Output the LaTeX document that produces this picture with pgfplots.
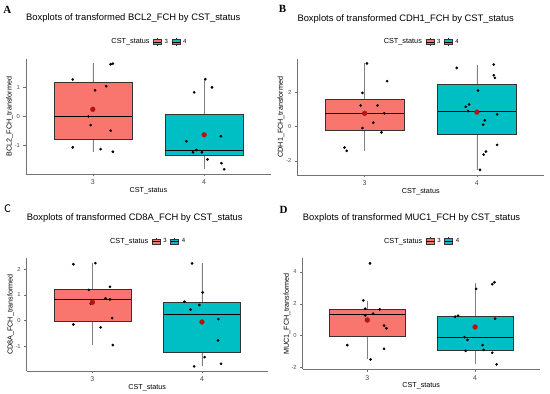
\documentclass[border=0pt]{standalone}
\usepackage{fontspec}
\setmainfont{Liberation Sans}
\newfontfamily\serifbf{Liberation Serif}
\newfontfamily\carlito{Carlito}
\usepackage{pgfplots}
\usepgfplotslibrary{statistics}
\pgfplotsset{compat=1.18}
\definecolor{ggred}{HTML}{F8766D}
\definecolor{ggcyan}{HTML}{00BFC4}
\definecolor{boxline}{HTML}{333333}
\definecolor{meanred}{HTML}{B41414}

\pgfplotsset{
  panel/.style={
    scale only axis,
    axis lines=left,
    axis line style={-, black!55, line width=0.6pt},
    xmin=-0.6, xmax=1.6,
    xtick={0,1}, xticklabels={3,4},
    tick align=outside,
    major tick length=2.5pt,
    tick style={black!55, line width=0.5pt},
    yticklabel style={font=\fontsize{5.8}{7}\selectfont, text=black!70},
    xticklabel style={font=\fontsize{7}{8}\selectfont, text=black!70},
    xlabel={CST\_status},
    xlabel style={at={(axis description cs:0.5,0)}, anchor=center, yshift=-16.5pt, font=\fontsize{7.2}{8}\selectfont},
    ylabel style={at={(axis description cs:-0.066,0.5)}, anchor=center, font=\fontsize{7.2}{8}\selectfont},
    title style={at={(axis description cs:0,1)}, anchor=base west, inner sep=0pt, yshift=32pt, font=\fontsize{9.4}{10}\selectfont},
    legend style={at={(axis description cs:0.5,1)}, anchor=center, yshift=17pt, draw=none, fill=none,
      legend columns=-1, font=\fontsize{6}{7}\selectfont,
      /tikz/every even column/.append style={column sep=1.5pt},
      /tikz/every odd column/.append style={column sep=1pt}},
    legend cell align=left,
    boxplot/draw direction=y,
    boxplot/every median/.style={black, line width=1pt},
    boxplot/every whisker/.style={black!50, line width=0.6pt},
    clip=false,
  },
  redkey/.style={legend image code/.code={
    \draw[boxline, fill=ggred, line width=0.4pt] (0pt,-2.6pt) rectangle (8pt,2.6pt);
    \draw[black, line width=0.6pt] (0pt,0pt) -- (8pt,0pt);
    \draw[boxline, line width=0.4pt] (4pt,2.6pt)--(4pt,3.8pt) (4pt,-2.6pt)--(4pt,-3.8pt);}},
  cyankey/.style={legend image code/.code={
    \draw[boxline, fill=ggcyan, line width=0.4pt] (0pt,-2.6pt) rectangle (8pt,2.6pt);
    \draw[black, line width=0.6pt] (0pt,0pt) -- (8pt,0pt);
    \draw[boxline, line width=0.4pt] (4pt,2.6pt)--(4pt,3.8pt) (4pt,-2.6pt)--(4pt,-3.8pt);}},
  pts/.style={only marks, mark=*, mark size=1.15pt, black},
  meanpt/.style={only marks, mark=*, mark size=2.4pt, color=meanred, mark options={draw=meanred, fill=meanred}},
}
\newcommand{\legendkeys}{%
  \addlegendimage{empty legend}\addlegendentry{\fontsize{7.3}{8}\selectfont CST\_status}
  \addlegendimage{redkey}\addlegendentry{3}
  \addlegendimage{cyankey}\addlegendentry{4}
}

\begin{document}
\begin{tikzpicture}
\path[use as bounding box] (0,0) rectangle (550pt,394pt);
\node[font=\serifbf\bfseries\fontsize{11}{12}\selectfont] at (7.3pt,384.3pt) {A};
\node[font=\serifbf\bfseries\fontsize{11}{12}\selectfont] at (282.5pt,385.2pt) {B};
\node[font=\carlito\fontsize{12}{13}\selectfont] at (7.5pt,185.2pt) {C};
\node[font=\serifbf\bfseries\fontsize{11}{12}\selectfont] at (283.5pt,184.3pt) {D};

% Panel A
\begin{axis}[panel, at={(26pt,220pt)}, anchor=south west, width=245pt, height=115pt,
  ymin=-1.97, ymax=1.96, ytick={-1,0,1}, yticklabels={-1,0,1},
  ylabel={BCL2\_FCH\_transformed},
  title={Boxplots of transformed BCL2\_FCH by CST\_status}]
\legendkeys
\addplot[boxplot prepared={lower whisker=-1.21, lower quartile=-0.77, median=0, upper quartile=1.15, upper whisker=1.81, draw position=0, box extend=0.7, whisker extend=0}, draw=boxline, fill=ggred, line width=0.5pt] coordinates {};
\addplot[boxplot prepared={lower whisker=-1.81, lower quartile=-1.34, median=-1.15, upper quartile=0.07, upper whisker=1.28, draw position=1, box extend=0.7, whisker extend=0}, draw=boxline, fill=ggcyan, line width=0.5pt] coordinates {};
\addplot[pts] coordinates {
 (-0.18,1.26) (0.16,1.78) (0.18,1.80) (0.02,0.89) (0.12,1.03) (-0.04,0.00) (-0.02,-0.30) (0.16,-0.49) (-0.18,-1.06) (0.07,-1.12) (0.18,-1.21)
 (1.01,1.27) (0.91,0.82) (1.07,0.99) (0.84,-0.85) (1.15,-0.68) (0.90,-1.23) (0.93,-1.15) (0.98,-1.23) (1.03,-1.47) (1.155,-1.60) (1.18,-1.81)};
\addplot[meanpt] coordinates {(0,0.24) (1,-0.63)};
\end{axis}

% Panel B
\begin{axis}[panel, at={(297.3pt,219pt)}, anchor=south west, width=247pt, height=116pt,
  ymin=-2.82, ymax=3.95, ytick={-2,0,2}, yticklabels={-2,0,2},
  ylabel={CDH1\_FCH\_transformed},
  title={Boxplots of transformed CDH1\_FCH by CST\_status}]
\legendkeys
\addplot[boxplot prepared={lower whisker=-1.40, lower quartile=-0.19, median=0.78, upper quartile=1.59, upper whisker=3.69, draw position=0, box extend=0.7, whisker extend=0}, draw=boxline, fill=ggred, line width=0.5pt] coordinates {};
\addplot[boxplot prepared={lower whisker=-2.52, lower quartile=-0.47, median=0.89, upper quartile=2.46, upper whisker=3.59, draw position=1, box extend=0.7, whisker extend=0}, draw=boxline, fill=ggcyan, line width=0.5pt] coordinates {};
\addplot[pts] coordinates {
 (0.02,3.69) (0.20,2.66) (-0.02,1.97) (-0.035,1.24) (0.115,1.24) (0.175,0.78) (0.077,0.23) (-0.02,-0.08) (0.15,-0.33) (-0.18,-1.22) (-0.16,-1.41)
 (0.82,3.43) (1.15,3.63) (1.15,3.00) (1.16,2.85) (1.01,2.11) (0.93,1.30) (0.90,1.16) (0.92,0.91) (1.07,0.37) (1.055,0.12) (1.18,0.72) (1.18,-1.06) (1.08,-1.45) (1.06,-1.63) (1.027,-2.52)};
\addplot[meanpt] coordinates {(0,0.78) (1,0.85)};
\end{axis}

% Panel C
\begin{axis}[panel, at={(26.7pt,23pt)}, anchor=south west, width=241pt, height=112.7pt,
  ymin=-1.97, ymax=2.42, ytick={-1,0,1,2}, yticklabels={-1,0,1,2},
  ylabel={CD8A\_FCH\_transformed},
  title={Boxplots of transformed CD8A\_FCH by CST\_status}]
\legendkeys
\addplot[boxplot prepared={lower whisker=-0.96, lower quartile=-0.05, median=0.82, upper quartile=1.22, upper whisker=2.22, draw position=0, box extend=0.7, whisker extend=0}, draw=boxline, fill=ggred, line width=0.5pt] coordinates {};
\addplot[boxplot prepared={lower whisker=-1.78, lower quartile=-1.23, median=0.23, upper quartile=0.69, upper whisker=2.22, draw position=1, box extend=0.7, whisker extend=0}, draw=boxline, fill=ggcyan, line width=0.5pt] coordinates {};
\addplot[pts] coordinates {
 (-0.174,2.19) (0.027,2.23) (0.16,1.31) (-0.033,1.19) (0.12,0.86) (0.16,0.82) (-0.015,0.65) (0.18,0.09) (-0.174,-0.16) (0.075,-0.27) (0.186,-0.96)
 (0.91,2.22) (1.006,1.09) (0.84,0.73) (0.976,0.60) (0.895,0.42) (1.15,0.05) (1.147,-0.78) (1.024,-1.43) (1.174,-1.69) (0.928,-1.79)};
\addplot[meanpt] coordinates {(0,0.71) (1,-0.06)};
\end{axis}

% Panel D
\begin{axis}[panel, at={(302.7pt,24.7pt)}, anchor=south west, width=237pt, height=111pt,
  ymin=-2.12, ymax=4.86, ytick={-2,0,2,4}, yticklabels={-2,0,2,4},
  ylabel={MUC1\_FCH\_transformed},
  title={Boxplots of transformed MUC1\_FCH by CST\_status}]
\legendkeys
\addplot[boxplot prepared={lower whisker=-1.50, lower quartile=-0.06, median=1.35, upper quartile=1.65, upper whisker=2.19, draw position=0, box extend=0.7, whisker extend=0}, draw=boxline, fill=ggred, line width=0.5pt] coordinates {};
\addplot[boxplot prepared={lower whisker=-1.81, lower quartile=-0.90, median=-0.10, upper quartile=1.19, upper whisker=3.33, draw position=1, box extend=0.7, whisker extend=0}, draw=boxline, fill=ggcyan, line width=0.5pt] coordinates {};
\addplot[pts] coordinates {
 (0.025,4.54) (-0.037,2.21) (-0.02,1.69) (0.115,1.65) (0.053,1.38) (-0.02,1.27) (0.155,0.63) (0.177,0.46) (-0.186,-0.60) (0.155,-0.83) (0.03,-1.50)
 (1.18,3.35) (1.16,3.23) (1.01,2.94) (0.814,1.19) (0.842,1.25) (1.186,1.06) (0.90,-0.10) (0.93,-0.27) (1.07,-0.60) (1.08,-0.90) (0.913,-0.96) (1.16,-1.08) (1.20,-1.81)};
\addplot[meanpt] coordinates {(0,0.98) (1,0.54)};
\end{axis}
\end{tikzpicture}
\end{document}
